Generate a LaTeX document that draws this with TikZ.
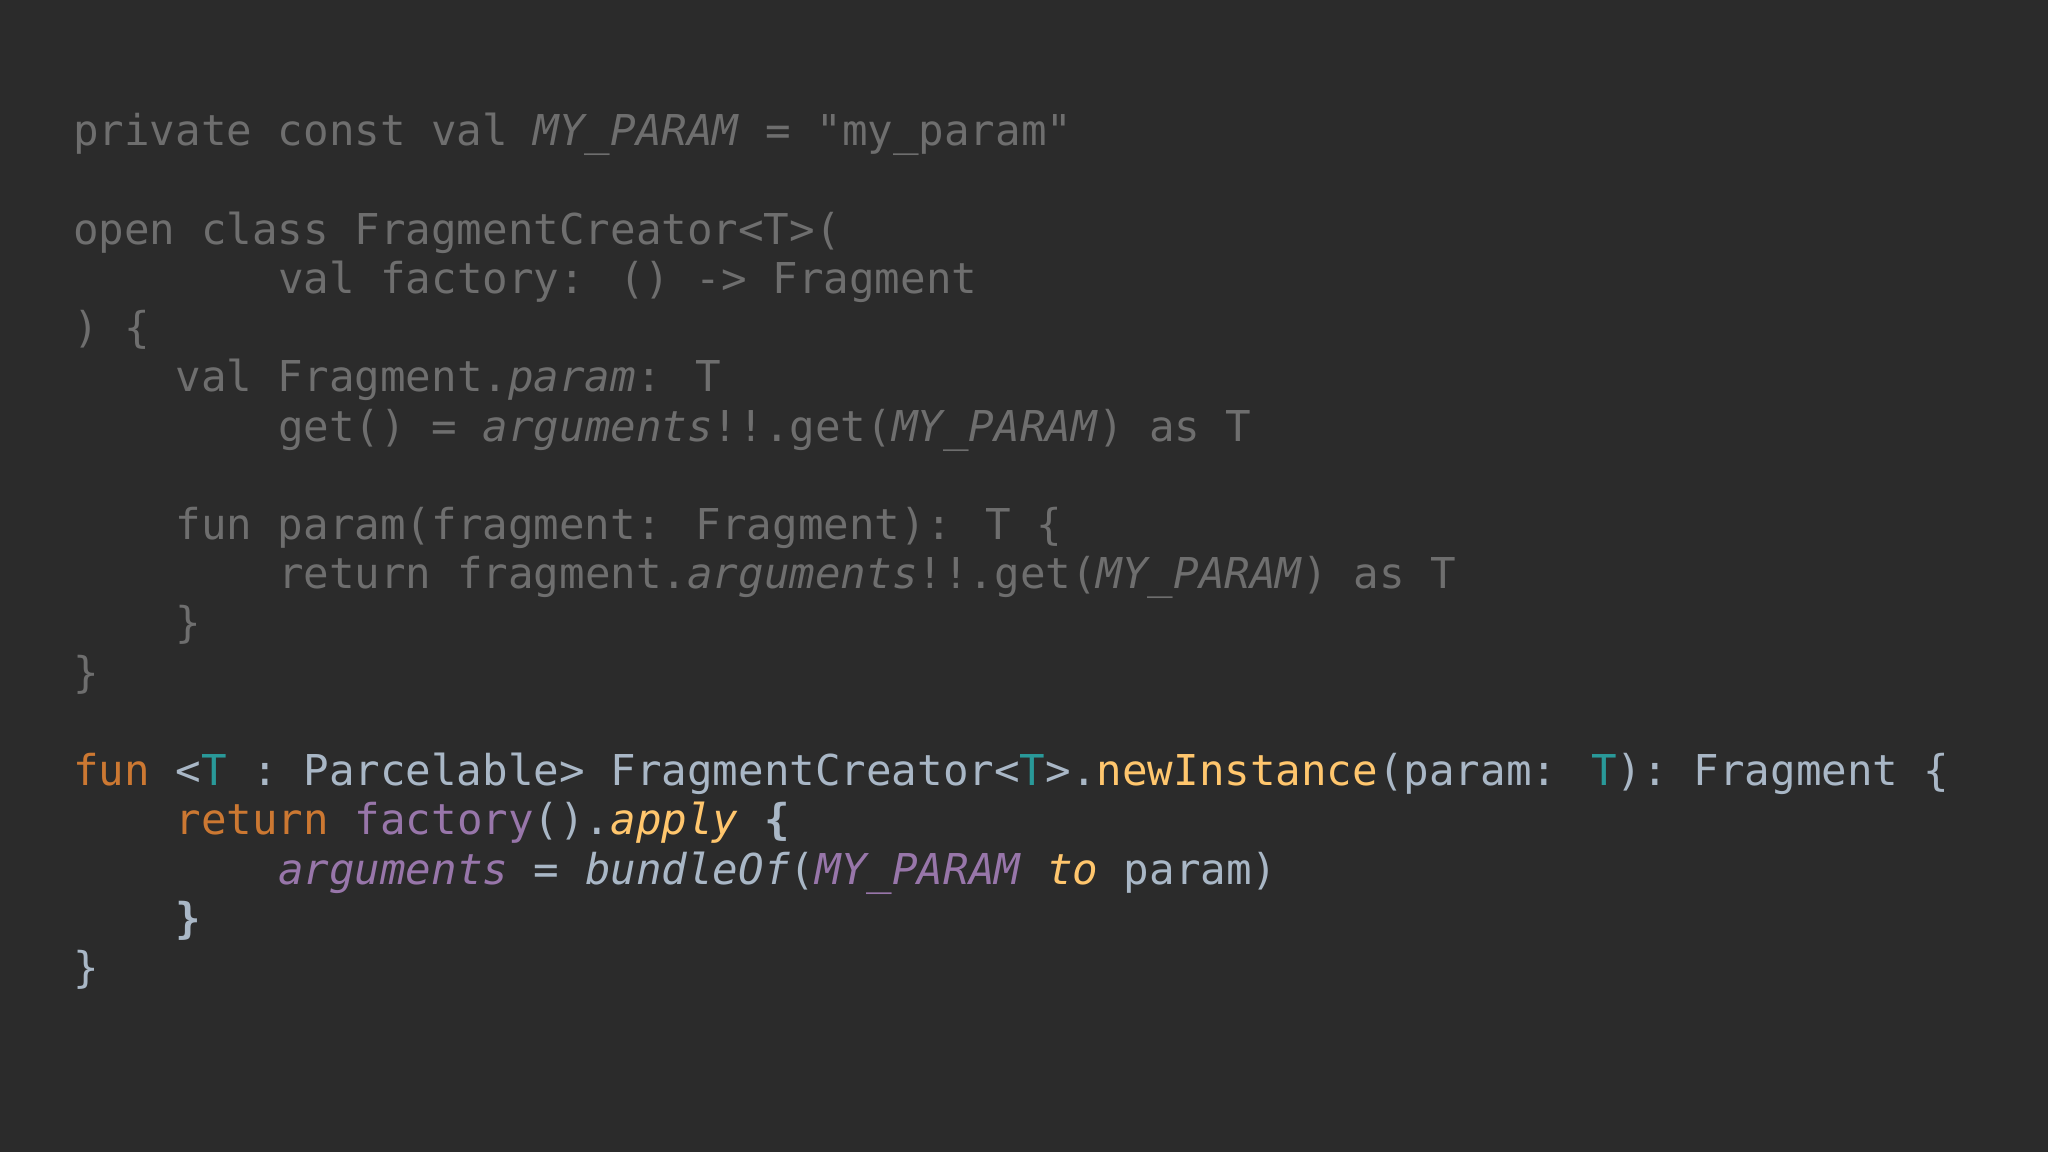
\documentclass[tikz,border=0pt]{standalone}
\usepackage{fontspec}
\newfontfamily\codefont{DejaVu Sans Mono}
\definecolor{bg}{HTML}{2B2B2B}
\definecolor{cgrey}{HTML}{6E6E6E}
\definecolor{cfg}{HTML}{A9B7C6}
\definecolor{cor}{HTML}{CC7832}
\definecolor{cpu}{HTML}{9876AA}
\definecolor{cye}{HTML}{FFC66D}
\definecolor{cte}{HTML}{299999}
\newcommand{\Or}[1]{\textcolor{cor}{#1}}
\newcommand{\Pu}[1]{\textcolor{cpu}{#1}}
\newcommand{\Ye}[1]{\textcolor{cye}{#1}}
\newcommand{\Te}[1]{\textcolor{cte}{#1}}
\newcommand{\It}[1]{\textit{#1}}
\tikzset{codeline/.style={anchor=base west,inner sep=0pt,font=\codefont\fontsize{42.5}{50}\selectfont}}
\begin{document}
\begin{tikzpicture}[x=1pt,y=1pt]
\fill[bg] (0,0) rectangle (2048,1152);
\useasboundingbox (0,0) rectangle (2048,1152);
\def\cw{25.6}
\def\ln#1{1152-146-(#1-1)*49.2}
\node[codeline,text=cgrey] (l1) at (73,{\ln{1}}) {private const val \It{MY\_PARAM} = "my\_param"};
\node[codeline,text=cgrey] (l3) at (73,{\ln{3}}) {open class FragmentCreator<T>(};
\node[codeline,text=cgrey] (l4) at ({73+8*\cw},{\ln{4}}) {val factory: () -> Fragment};
\node[codeline,text=cgrey] (l5) at (73,{\ln{5}}) {) \{};
\node[codeline,text=cgrey] (l6) at ({73+4*\cw},{\ln{6}}) {val Fragment.\It{param}: T};
\node[codeline,text=cgrey] (l7) at ({73+8*\cw},{\ln{7}}) {get() = \It{arguments}!!.get(\It{MY\_PARAM}) as T};
\node[codeline,text=cgrey] (l9) at ({73+4*\cw},{\ln{9}}) {fun param(fragment: Fragment): T \{};
\node[codeline,text=cgrey] (l10) at ({73+8*\cw},{\ln{10}}) {return fragment.\It{arguments}!!.get(\It{MY\_PARAM}) as T};
\node[codeline,text=cgrey] (l11) at ({73+4*\cw},{\ln{11}}) {\}};
\node[codeline,text=cgrey] (l12) at (73,{\ln{12}}) {\}};
\node[codeline,text=cfg] (l14) at (73,{\ln{14}}) {\Or{fun} <\Te{T} : Parcelable> FragmentCreator<\Te{T}>.\Ye{newInstance}(param: \Te{T}): Fragment \{};
\node[codeline,text=cfg] (l15) at ({73+4*\cw},{\ln{15}}) {\Or{return} \Pu{factory}().\Ye{\It{apply}} \textbf{\{}};
\node[codeline,text=cfg] (l16) at ({73+8*\cw},{\ln{16}}) {\Pu{\It{arguments}} = \It{bundleOf}(\Pu{\It{MY\_PARAM}} \Ye{\It{to}} param)};
\node[codeline,text=cfg] (l17) at ({73+4*\cw},{\ln{17}}) {\textbf{\}}};
\node[codeline,text=cfg] (l18) at (73,{\ln{18}}) {\}};
\end{tikzpicture}
\end{document}
